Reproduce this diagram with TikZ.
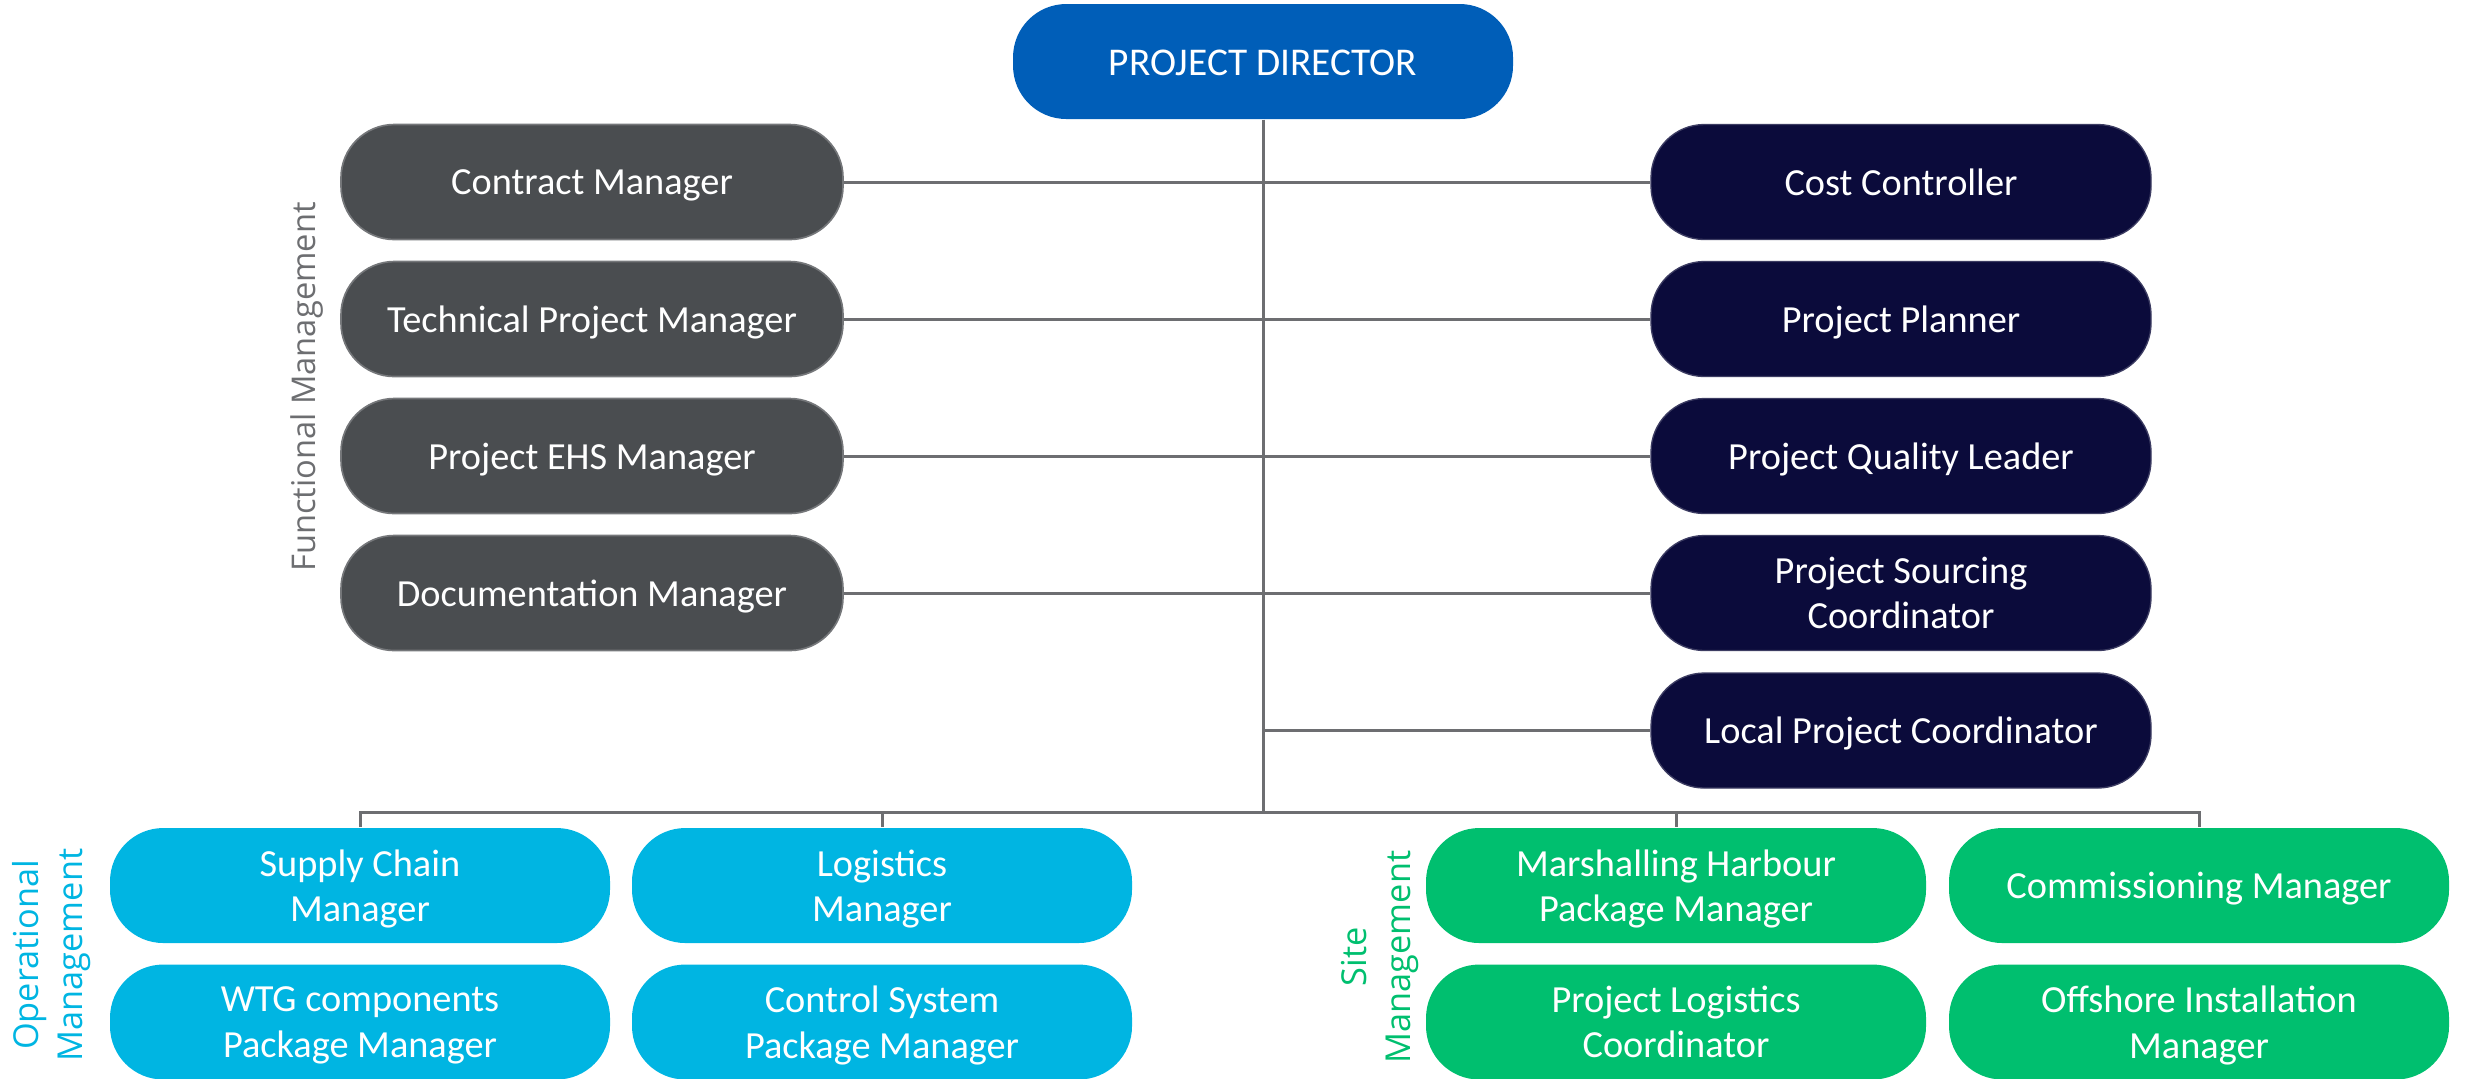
\documentclass[tikz,border=0pt]{standalone}
\usepackage{fontspec}
\setmainfont{Carlito}
\newfontfamily\labelfont{Open Sans}
\definecolor{pdblue}{HTML}{005EB8}
\definecolor{fgrey}{HTML}{4A4D50}
\definecolor{fgreyb}{HTML}{75777A}
\definecolor{navy}{HTML}{0B0B3B}
\definecolor{opcyan}{HTML}{00B5E2}
\definecolor{sitegreen}{HTML}{00BF6F}
\definecolor{linegrey}{HTML}{6D6E71}
\begin{document}
\begin{tikzpicture}[x=0.3pt,y=-0.3pt,
  box/.style={rounded corners=16pt, minimum width=150pt, minimum height=34.5pt,
    inner sep=0pt, align=center, text=white, text depth=0pt,
    font=\fontsize{11.5}{13.6}\selectfont},
  dirbox/.style={box, fill=pdblue, text height=8.2pt, font=\fontsize{11.8}{13.5}\selectfont},
  funbox/.style={box, fill=fgrey, draw=fgreyb, line width=0.5pt, minimum width=150.6pt},
  ctlbox/.style={box, fill=navy, draw=navy!80!white, line width=0.4pt},
  opbox/.style={box, fill=opcyan},
  sitebox/.style={box, fill=sitegreen},
  conn/.style={draw=linegrey, line width=0.9pt},
  grplabel/.style={rotate=90, align=center, font=\labelfont\fontsize{9.8}{12.5}\selectfont},
  grplabelb/.style={rotate=90, align=center, font=\labelfont\fontsize{10.3}{13.2}\selectfont}
]
\useasboundingbox (0,0) rectangle (2465,1078);

\coordinate (busC) at (1263,812);

\node[dirbox] (pd) at (1263,61.5) {PROJECT DIRECTOR};

\node[funbox] (cm)  at (592,182) {Contract Manager};
\node[funbox] (tpm) at (592,319) {Technical Project Manager};
\node[funbox] (ehs) at (592,456) {Project EHS Manager};
\node[funbox] (dm)  at (592,593) {Documentation Manager};

\node[ctlbox] (cc)  at (1901,182) {Cost Controller};
\node[ctlbox] (pp)  at (1901,319) {Project Planner};
\node[ctlbox] (pql) at (1901,456) {Project Quality Leader};
\node[ctlbox] (psc) at (1901,593) {Project Sourcing\\Coordinator};
\node[ctlbox] (lpc) at (1901,730.5) {Local Project Coordinator};

\node[opbox] (scm) at (360,885.5) {Supply Chain\\Manager};
\node[opbox] (lgm) at (882,885.5) {Logistics\\Manager};
\node[opbox] (wtg) at (360,1022) {WTG components\\Package Manager};
\node[opbox] (csp) at (882,1022) {Control System\\Package Manager};

\node[sitebox] (mhp) at (1676,885.5) {Marshalling Harbour\\Package Manager};
\node[sitebox] (com) at (2199,885.5) {Commissioning Manager};
\node[sitebox] (plc) at (1676,1022) {Project Logistics\\Coordinator};
\node[sitebox] (oim) at (2199,1022) {Offshore Installation\\Manager};

\node[grplabel, text=linegrey] (fml) at (307,387) {Functional Management};
\node[grplabelb, text=opcyan] (oml) at (52,955) {Operational\\Management};
\node[grplabelb, text=sitegreen] (sml) at (1380,957) {Site\\Management};

\draw[conn] (pd.south) -- (busC);
\draw[conn] (cm.east) -- (cc.west);
\draw[conn] (tpm.east) -- (pp.west);
\draw[conn] (ehs.east) -- (pql.west);
\draw[conn] (dm.east) -- (psc.west);
\draw[conn] (busC |- lpc.west) -- (lpc.west);
\draw[conn] (scm.north) -- (scm.north |- busC) -- (com.north |- busC) -- (com.north);
\draw[conn] (lgm.north |- busC) -- (lgm.north);
\draw[conn] (mhp.north |- busC) -- (mhp.north);
\end{tikzpicture}
\end{document}
